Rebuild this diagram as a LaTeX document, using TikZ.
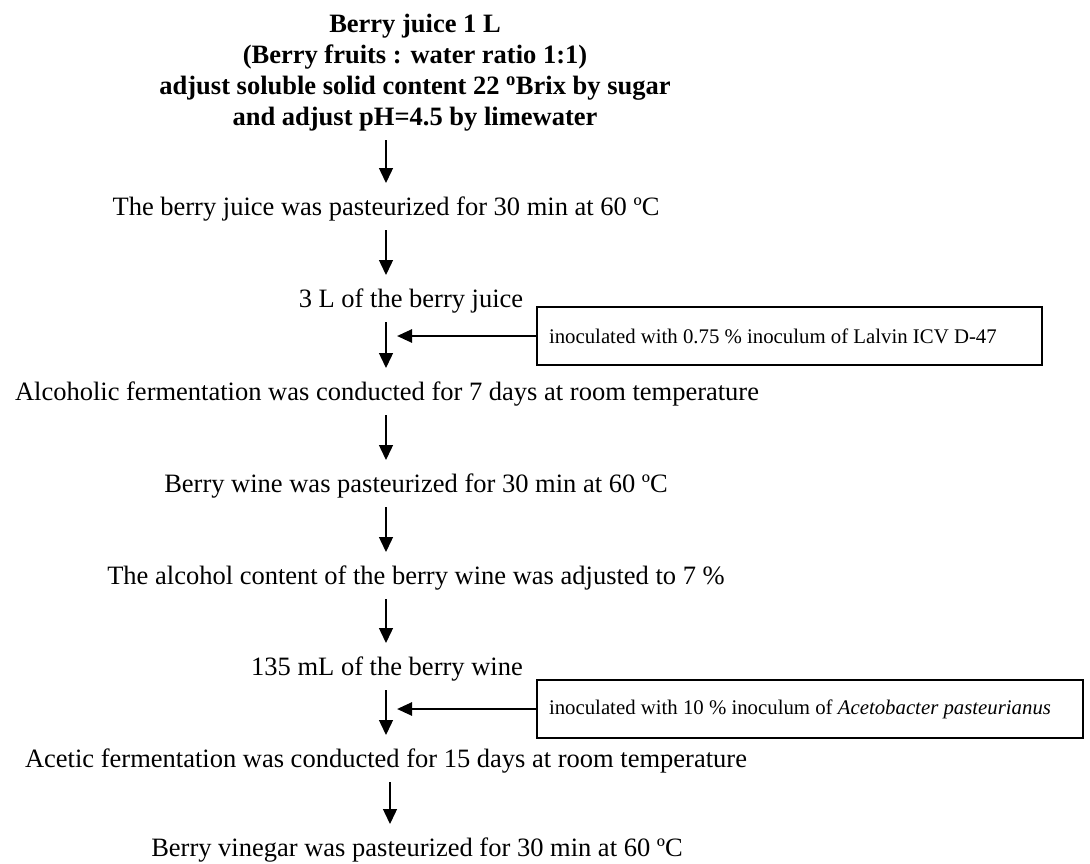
\documentclass[tikz,border=0pt]{standalone}
\usepackage{fontspec}
\setmainfont{Liberation Serif}
\usetikzlibrary{arrows.meta}
\begin{document}
\begin{tikzpicture}[x=1pt,y=1pt,
  every node/.style={inner sep=0pt, outer sep=0pt},
  txt/.style={font=\fontsize{26.5}{31}\selectfont, anchor=base, text height=18pt, text depth=6pt},
  ttl/.style={font=\fontsize{26.5}{31}\selectfont\bfseries, align=center, anchor=north},
  inbox/.style={draw, line width=1.5pt, font=\fontsize{20.8}{25}\selectfont, align=flush left, inner xsep=12pt, minimum height=58pt},
  varr/.style={line width=1.4pt, -{Triangle[length=15pt,width=14pt]}, shorten <=9pt, shorten >=14pt},
  harr/.style={line width=2.6pt, -{Triangle[length=15pt,width=13pt]}, shorten >=11pt}]
\useasboundingbox (0,0) rectangle (1090,-863);
\coordinate (ax) at (386,0);
\node[ttl] (t0) at (415,-14) {Berry juice 1 L\\(Berry fruits : water ratio 1:1)\\adjust soluble solid content 22 \textsuperscript{o}Brix by sugar\\and adjust pH=4.5 by limewater};
\node[txt] (t1) at (386,-215) {The berry juice was pasteurized for 30 min at 60 ºC};
\node[txt] (t2) at (411,-307) {3 L of the berry juice};
\node[txt] (t3) at (387,-400) {Alcoholic fermentation was conducted for 7 days at room temperature};
\node[txt] (t4) at (416,-492) {Berry wine was pasteurized for 30 min at 60 ºC};
\node[txt] (t5) at (416,-584) {The alcohol content of the berry wine was adjusted to 7 \%};
\node[txt] (t6) at (387,-675) {135 mL of the berry wine};
\node[txt] (t7) at (386,-767) {Acetic fermentation was conducted for 15 days at room temperature};
\node[txt] (t8) at (417,-856) {Berry vinegar was pasteurized for 30 min at 60 ºC};
\node[inbox, text width=481pt, anchor=west] (b1) at (537,-336) {inoculated with 0.75 \% inoculum of Lalvin ICV D-47};
\node[inbox, text width=522pt, anchor=west] (b2) at (537,-709) {inoculated with 10 \% inoculum of \textit{Acetobacter pasteurianus}};
\draw[varr] (t0.south -| ax) -- (t1.north -| ax);
\draw[varr] (t1.south -| ax) -- (t2.north -| ax);
\draw[varr] (t2.south -| ax) -- (t3.north -| ax);
\draw[varr] (t3.south -| ax) -- (t4.north -| ax);
\draw[varr] (t4.south -| ax) -- (t5.north -| ax);
\draw[varr] (t5.south -| ax) -- (t6.north -| ax);
\draw[varr] (t6.south -| ax) -- (t7.north -| ax);
\draw[varr] ([xshift=4pt]t7.south -| ax) -- ([xshift=4pt]t8.north -| ax);
\draw[harr] (b1.west) -- (b1.west -| ax);
\draw[harr] (b2.west) -- (b2.west -| ax);
\end{tikzpicture}
\end{document}
